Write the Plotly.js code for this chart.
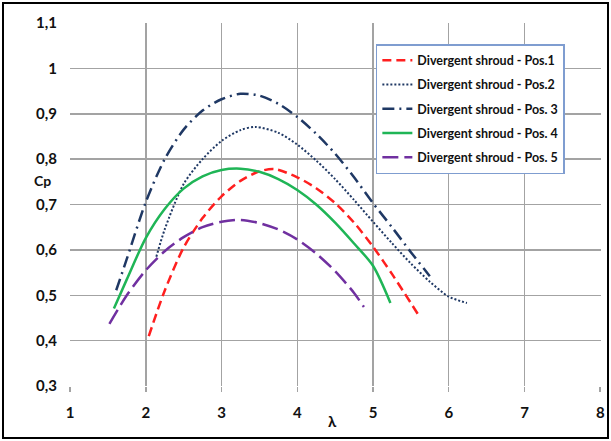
<!DOCTYPE html>
<html>
<head>
<meta charset="utf-8">
<script src="https://cdn.plot.ly/plotly-3.0.1.min.js"></script>
<style>
  html, body { margin: 0; padding: 0; background: #fff; }
  #wrap { position: absolute; left: 2px; top: 2px; width: 603px; height: 433px; border: 2px solid #000; }
  #chart { width: 603px; height: 433px; }
</style>
</head>
<body>
<div id="wrap"><div id="chart"></div></div>
<script>
// Series names
const names = [
  "Divergent shroud - Pos.1",
  "Divergent shroud - Pos.2",
  "Divergent shroud - Pos. 3",
  "Divergent shroud - Pos. 4",
  "Divergent shroud - Pos. 5"
];

// Pos.1 (red dashed)
const pos1X = [2.04, 2.25, 2.5, 2.75, 3.0, 3.25, 3.5, 3.7, 4.0, 4.25, 4.5, 4.75, 5.0, 5.25, 5.61];
const pos1Y = [0.41, 0.51, 0.605, 0.67, 0.718, 0.752, 0.773, 0.778, 0.76, 0.736, 0.703, 0.66, 0.607, 0.547, 0.454];

// Pos.2 (navy dotted)
const pos2X = [2.14, 2.25, 2.5, 2.75, 3.0, 3.25, 3.45, 3.75, 4.0, 4.25, 4.5, 4.75, 5.0, 5.25, 5.5, 5.75, 6.0, 6.24];
const pos2Y = [0.585, 0.645, 0.745, 0.8, 0.84, 0.864, 0.871, 0.858, 0.832, 0.797, 0.756, 0.71, 0.662, 0.615, 0.57, 0.53, 0.497, 0.483];

// Pos.3 (navy dash-dot)
const pos3X = [1.61, 1.75, 2.0, 2.25, 2.5, 2.75, 3.0, 3.25, 3.5, 3.75, 4.0, 4.25, 4.5, 4.75, 5.0, 5.25, 5.5, 5.75];
const pos3Y = [0.511, 0.58, 0.705, 0.8, 0.865, 0.907, 0.932, 0.944, 0.94, 0.922, 0.893, 0.856, 0.812, 0.76, 0.703, 0.65, 0.595, 0.542];

// Pos.4 (green solid)
const pos4X = [1.58, 1.75, 2.0, 2.25, 2.5, 2.75, 3.0, 3.25, 3.5, 3.75, 4.0, 4.25, 4.5, 4.75, 5.0, 5.23];
const pos4Y = [0.471, 0.535, 0.626, 0.69, 0.735, 0.762, 0.776, 0.779, 0.772, 0.756, 0.732, 0.7, 0.66, 0.614, 0.565, 0.483];

// Pos.5 (purple long dash)
const pos5X = [1.52, 1.75, 2.0, 2.25, 2.5, 2.75, 3.0, 3.25, 3.5, 3.75, 4.0, 4.25, 4.5, 4.75, 4.88];
const pos5Y = [0.437, 0.5, 0.555, 0.597, 0.628, 0.65, 0.662, 0.666, 0.659, 0.645, 0.623, 0.592, 0.553, 0.505, 0.474];

// Axis ticks
const xTicks = [1, 2, 3, 4, 5, 6, 7, 8];
const yTicks = [0.3, 0.4, 0.5, 0.6, 0.7, 0.8, 0.9, 1.0, 1.1];

const FONT = "Lato, 'Open Sans', 'Liberation Sans', sans-serif";

const styles = [
  {color: "#ff1f1f", dash: "9px,5px", width: 2.5},
  {color: "#1f3864", dash: "2px,2px", width: 2},
  {color: "#1f3864", dash: "12px,5px,2px,5px", width: 2.5},
  {color: "#1fb556", dash: "solid", width: 2.5},
  {color: "#7030a0", dash: "16px,6px", width: 2.5}
];

const xs = [pos1X, pos2X, pos3X, pos4X, pos5X];
const ys = [pos1Y, pos2Y, pos3Y, pos4Y, pos5Y];

const traces = xs.map((x, i) => ({
  x: x, y: ys[i], type: "scatter", mode: "lines", name: names[i],
  legendgroup: "g" + i,
  line: {color: styles[i].color, dash: styles[i].dash, width: styles[i].width, shape: "spline", smoothing: 0.8}
}));

const layout = {
  width: 603, height: 433,
  margin: {l: 66, r: 6, t: 19, b: 51},
  paper_bgcolor: "#fff", plot_bgcolor: "#fff",
  separators: ",.",
  font: {family: FONT, color: "#1a1a1a"},
  showlegend: true,
  legend: {
    x: 0.576, y: 0.942, xanchor: "left", yanchor: "top",
    bgcolor: "#fff", bordercolor: "#7f9dd0", borderwidth: 1.5,
    font: {family: FONT, size: 12.5, color: "#111", weight: "bold"},
    tracegroupgap: 5
  },
  xaxis: {
    range: [1, 8.01], tickvals: xTicks, ticktext: xTicks.map(String),
    showgrid: true, gridcolor: "#a3a3a3", gridwidth: 1.5,
    zeroline: false, showline: false,
    ticks: "outside", ticklen: 5, tickcolor: "#a3a3a3", tickwidth: 1.5,
    ticklabelstandoff: 8, ticklabeloverflow: "allow",
    tickfont: {family: FONT, size: 15, color: "#111", weight: "bold"}
  },
  yaxis: {
    range: [0.3, 1.1], tickvals: yTicks, tickformat: ".1~f",
    showgrid: true, gridcolor: "#a3a3a3", gridwidth: 1.5,
    zeroline: false, showline: false,
    ticks: "", ticklabelstandoff: 12,
    tickfont: {family: FONT, size: 15, color: "#111", weight: "bold"}
  },
  annotations: [
    {text: "Cp", xref: "paper", yref: "paper", x: -0.052, y: 0.565, showarrow: false,
     xanchor: "center", yanchor: "middle", font: {family: FONT, size: 14, color: "#111", weight: "bold"}},
    {text: "λ", xref: "paper", yref: "paper", x: 0.495, y: -0.096, showarrow: false,
     xanchor: "center", yanchor: "middle", font: {family: FONT, size: 15, color: "#111", weight: "bold"}}
  ]
};

Plotly.newPlot("chart", traces, layout, {displayModeBar: false, staticPlot: true});
</script>
</body>
</html>
